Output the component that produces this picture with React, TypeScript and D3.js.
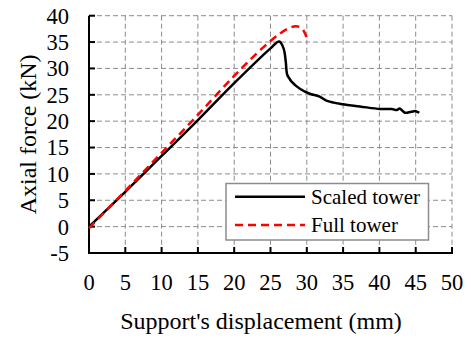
import * as d3 from "d3"

// Scaled tower (black solid)
const scaledX = [0, 5, 10, 15, 20, 25, 26.2, 26.8, 27.1, 27.3, 27.6, 27.9, 29.1, 30.4, 31.7, 32.7, 35.0, 37.3, 40.1, 41.7, 42.4, 42.8, 43.5, 44.4, 45.0, 45.5]
const scaledY = [0, 6.6, 13.4, 20.2, 27.2, 33.8, 35.1, 33.8, 31.3, 28.8, 28.1, 27.5, 26.1, 25.2, 24.7, 23.9, 23.2, 22.8, 22.3, 22.3, 22.1, 22.4, 21.6, 21.8, 21.9, 21.6]

// Full tower (red dashed)
const fullX = [0, 5, 10, 15, 20, 24, 26.3, 27.5, 28.5, 29.3, 29.8, 30.1]
const fullY = [-0.3, 6.8, 14.0, 21.2, 28.6, 34.0, 36.6, 37.6, 38.0, 37.6, 36.5, 35.1]

const xTicks = [0, 5, 10, 15, 20, 25, 30, 35, 40, 45, 50]
const yTicks = [-5, 0, 5, 10, 15, 20, 25, 30, 35, 40]

const W = 471
const H = 338
const FONT = "'Liberation Serif', 'Times New Roman', serif"

export default function App() {
  const x = d3.scaleLinear().domain([0, 50]).range([89, 452])
  const y = d3.scaleLinear().domain([-5, 40]).range([253, 15.7])

  const line = d3
    .line<[number, number]>()
    .x((d) => x(d[0]))
    .y((d) => y(d[1]))
    .curve(d3.curveCatmullRom.alpha(0.5))

  const scaled = scaledX.map((v, i) => [v, scaledY[i]] as [number, number])
  const full = fullX.map((v, i) => [v, fullY[i]] as [number, number])

  const x0 = x(0)
  const y0 = y(-5)

  return (
    <svg
      width={W}
      height={H}
      style={{ position: "absolute", left: 0, top: 0, background: "#fff" }}
      fontFamily={FONT}
    >
      {/* grid */}
      {xTicks.filter((t) => t > 0).map((t) => (
        <line key={"gx" + t} x1={x(t)} x2={x(t)} y1={y(40)} y2={y0}
          stroke="#8c8c8c" strokeWidth={1} strokeDasharray="5,3" />
      ))}
      {yTicks.filter((t) => t > -5).map((t) => (
        <line key={"gy" + t} x1={x0} x2={x(50)} y1={y(t)} y2={y(t)}
          stroke="#8c8c8c" strokeWidth={1} strokeDasharray="5,3" />
      ))}

      {/* axes */}
      <line x1={x0} x2={x0} y1={y(40)} y2={y0 + 1} stroke="#000" strokeWidth={2} />
      <line x1={x0 - 1} x2={x(50) + 1} y1={y0} y2={y0} stroke="#000" strokeWidth={2} />
      {xTicks.map((t) => (
        <line key={"tx" + t} x1={x(t)} x2={x(t)} y1={y0} y2={y0 - 6} stroke="#000" strokeWidth={2} />
      ))}
      {yTicks.map((t) => (
        <line key={"ty" + t} x1={x0} x2={x0 + 6} y1={y(t)} y2={y(t)} stroke="#000" strokeWidth={2} />
      ))}

      {/* tick labels */}
      {xTicks.map((t) => (
        <text key={"lx" + t} x={x(t)} y={290} textAnchor="middle" fontSize={22.5} fill="#000">{t}</text>
      ))}
      {yTicks.map((t) => (
        <text key={"ly" + t} x={69} y={y(t)} dy="0.35em" textAnchor="end" fontSize={22.5} fill="#000">{t}</text>
      ))}

      {/* axis titles */}
      <text x={261} y={329} textAnchor="middle" fontSize={24} fill="#000">
        Support's displacement (mm)
      </text>
      <text transform={`translate(36,${(y(40) + y0) / 2}) rotate(-90)`} textAnchor="middle" fontSize={24} fill="#000">
        Axial force (kN)
      </text>

      {/* series */}
      <path d={line(scaled) ?? ""} fill="none" stroke="#000" strokeWidth={2.5} strokeLinejoin="round" />
      <path d={line(full) ?? ""} fill="none" stroke="#ff0000" strokeWidth={2.5} strokeDasharray="8,5" />

      {/* legend */}
      <rect x={226} y={183.5} width={202.5} height={56.5} fill="#fff" stroke="#8c8c8c" strokeWidth={1.5} />
      <line x1={235} x2={305} y1={196.7} y2={196.7} stroke="#000" strokeWidth={2.5} />
      <text x={311} y={196.7} dy="0.33em" fontSize={21} fill="#000">Scaled tower</text>
      <line x1={235} x2={305} y1={225} y2={225} stroke="#ff0000" strokeWidth={2.5} strokeDasharray="8,5" />
      <text x={311} y={225} dy="0.33em" fontSize={21} fill="#000">Full tower</text>
    </svg>
  )
}
